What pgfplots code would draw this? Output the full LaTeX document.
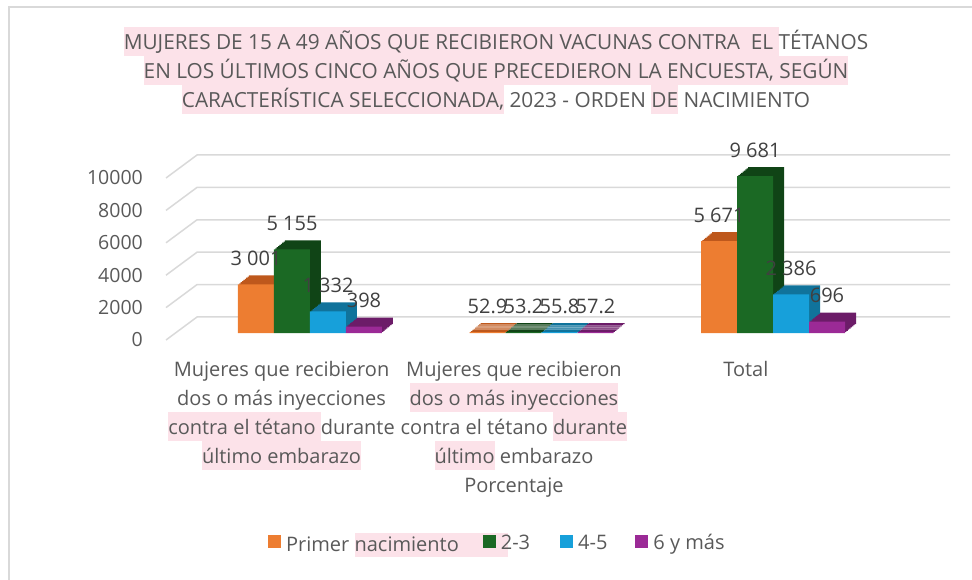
\documentclass[border=0pt]{standalone}
\usepackage{pgfplots}
\usepackage{pgfplotstable}
\pgfplotsset{compat=1.18}
\usepackage{fontspec}
\setmainfont{Open Sans}
\newfontfamily\titlefont{Open Sans}
\definecolor{hlpink}{RGB}{252,226,233}
\definecolor{txt}{RGB}{89,89,89}
\definecolor{lbl}{RGB}{64,64,64}
\definecolor{gridc}{RGB}{217,217,217}
\definecolor{c1}{RGB}{237,125,49}\definecolor{c1d}{RGB}{190,88,28}
\definecolor{c2}{RGB}{27,105,36}\definecolor{c2d}{RGB}{16,68,22}
\definecolor{c3}{RGB}{23,160,218}\definecolor{c3d}{RGB}{16,115,155}
\definecolor{c4}{RGB}{155,42,150}\definecolor{c4d}{RGB}{108,28,104}
\newcommand\st{\rule[-7pt]{0pt}{29pt}}
\newcommand\hl[1]{{\setlength{\fboxsep}{0pt}\colorbox{hlpink}{\st#1}}}
\newcommand\hlover[2]{\makebox[0pt][l]{\setlength{\fboxsep}{0pt}\colorbox{hlpink}{\rule[-5pt]{0pt}{24pt}\hspace{#2}}}#1}
\pgfplotstableread{
x a b c d
0 3001 5155 1332 398
1 52.9 53.2 55.8 57.2
2 5671 9681 2386 696
}\datatab
\newcommand\ext[4]{\addplot[ybar, bar width=36pt, fill=#2, draw=none, bar shift=#3pt, yshift=#4pt, forget plot] table[x=x,y=#1]{\datatab};}
\newcommand\extrude[3]{%
  \pgfplotsforeachungrouped \k in {1,...,8}{%
    \pgfmathsetmacro\sh{#3+1.375*\k}%
    \pgfmathsetmacro\ys{1.125*\k}%
    \edef\doit{\noexpand\ext{#1}{#2}{\sh}{\ys}}\doit}}
\begin{document}
\begin{tikzpicture}
\path[use as bounding box] (-310pt,-246pt) rectangle (662pt,333pt);
\draw[gridc, line width=2pt] (-301pt,-250pt) -- (-301pt,326pt) -- (670pt,326pt);
\begin{axis}[
  at={(0,0)}, anchor=origin,
  x=231.5pt, y=0.0162pt,
  xmin=-0.622, xmax=2.765, ymin=-432, ymax=11000,
  enlargelimits=false, clip=false,
  scaled ticks=false,
  axis line style={draw=none}, major tick length=0pt,
  /pgf/number format/assume math mode=true,
  /pgf/number format/1000 sep={\ },
  xtick={-0.123,0.881,1.883},
  xticklabels={
    {\st Mujeres que recibieron\\\st dos o más inyecciones\\\hl{contra el tétano }durante\\\hl{último embarazo}},
    {\st Mujeres que recibieron\\\hl{dos o más inyecciones}\\\st contra el tétano \hl{durante}\\\hl{último} embarazo\\\st Porcentaje},
    {\st Total}},
  xticklabel style={font=\fontsize{20}{29}\selectfont, text=txt, anchor=north, inner sep=0pt, yshift=-14pt, align=center},
  ytick={-432,1568,3568,5568,7568,9568},
  yticklabels={0,2000,4000,6000,8000,10000},
  yticklabel style={font=\fontsize{19.5}{22}\selectfont, text=txt, anchor=east, inner sep=0pt, xshift=-23pt},
  every node near coord/.append style={anchor=base, yshift=19pt, inner sep=0pt, font=\fontsize{20}{24}\selectfont, text=lbl},
  legend columns=4,
  legend image code/.code={\fill[#1] (0pt,-5.5pt) rectangle (13pt,7.5pt);},
  legend style={at={(axis description cs:0.130,-1.096)}, anchor=west, draw=none, fill=none, inner sep=0pt,
    font=\fontsize{20}{24}\selectfont, text=txt, column sep=0pt, nodes={inner sep=0pt}},
]
\draw[gridc, line width=1.5pt] (axis cs:-0.622,-432) -- (axis cs:-0.488,988) -- (axis cs:2.765,988);
\draw[gridc, line width=1.5pt] (axis cs:-0.622,1568) -- (axis cs:-0.488,2988) -- (axis cs:2.765,2988);
\draw[gridc, line width=1.5pt] (axis cs:-0.622,3568) -- (axis cs:-0.488,4988) -- (axis cs:2.765,4988);
\draw[gridc, line width=1.5pt] (axis cs:-0.622,5568) -- (axis cs:-0.488,6988) -- (axis cs:2.765,6988);
\draw[gridc, line width=1.5pt] (axis cs:-0.622,7568) -- (axis cs:-0.488,8988) -- (axis cs:2.765,8988);
\draw[gridc, line width=1.5pt] (axis cs:-0.622,9568) -- (axis cs:-0.488,10988) -- (axis cs:2.765,10988);

\extrude{a}{c1d}{-54}
\addplot[ybar, bar width=36pt, fill=c1, draw=none, bar shift=-54pt, nodes near coords,
  every node near coord/.append style={xshift=-54pt}] table[x=x,y=a]{\datatab};
\addlegendentry{\hspace{5pt}Primer \hlover{nacimiento}{153pt}\hspace{24pt}\null}
\extrude{b}{c2d}{-18}
\addplot[ybar, bar width=36pt, fill=c2, draw=none, bar shift=-18pt, nodes near coords,
  every node near coord/.append style={xshift=-18pt}] table[x=x,y=b]{\datatab};
\addlegendentry{\hspace{5pt}2-3\hspace{30pt}\null}
\extrude{c}{c3d}{18}
\addplot[ybar, bar width=36pt, fill=c3, draw=none, bar shift=18pt, nodes near coords,
  every node near coord/.append style={xshift=18pt}] table[x=x,y=c]{\datatab};
\addlegendentry{\hspace{5pt}4-5\hspace{28pt}\null}
\extrude{d}{c4d}{54}
\addplot[ybar, bar width=36pt, fill=c4, draw=none, bar shift=54pt, nodes near coords,
  every node near coord/.append style={xshift=54pt}] table[x=x,y=d]{\datatab};
\addlegendentry{\hspace{5pt}6 y más}
\end{axis}
\node[anchor=north, inner sep=0pt, align=center, font=\titlefont\fontsize{20.8}{29}\selectfont, text=txt] at (186pt,306pt)
{\hl{MUJERES DE 15 A 49 AÑOS QUE RECIBIERON VACUNAS CONTRA \ EL }TÉTANOS\\
\hl{EN LOS ÚLTIMOS CINCO AÑOS QUE PRECEDIERON LA ENCUESTA, SEGÚN}\\
\hl{CARACTERÍSTICA SELECCIONADA,} 2023 - ORDEN \hl{DE} NACIMIENTO};
\end{tikzpicture}
\end{document}
